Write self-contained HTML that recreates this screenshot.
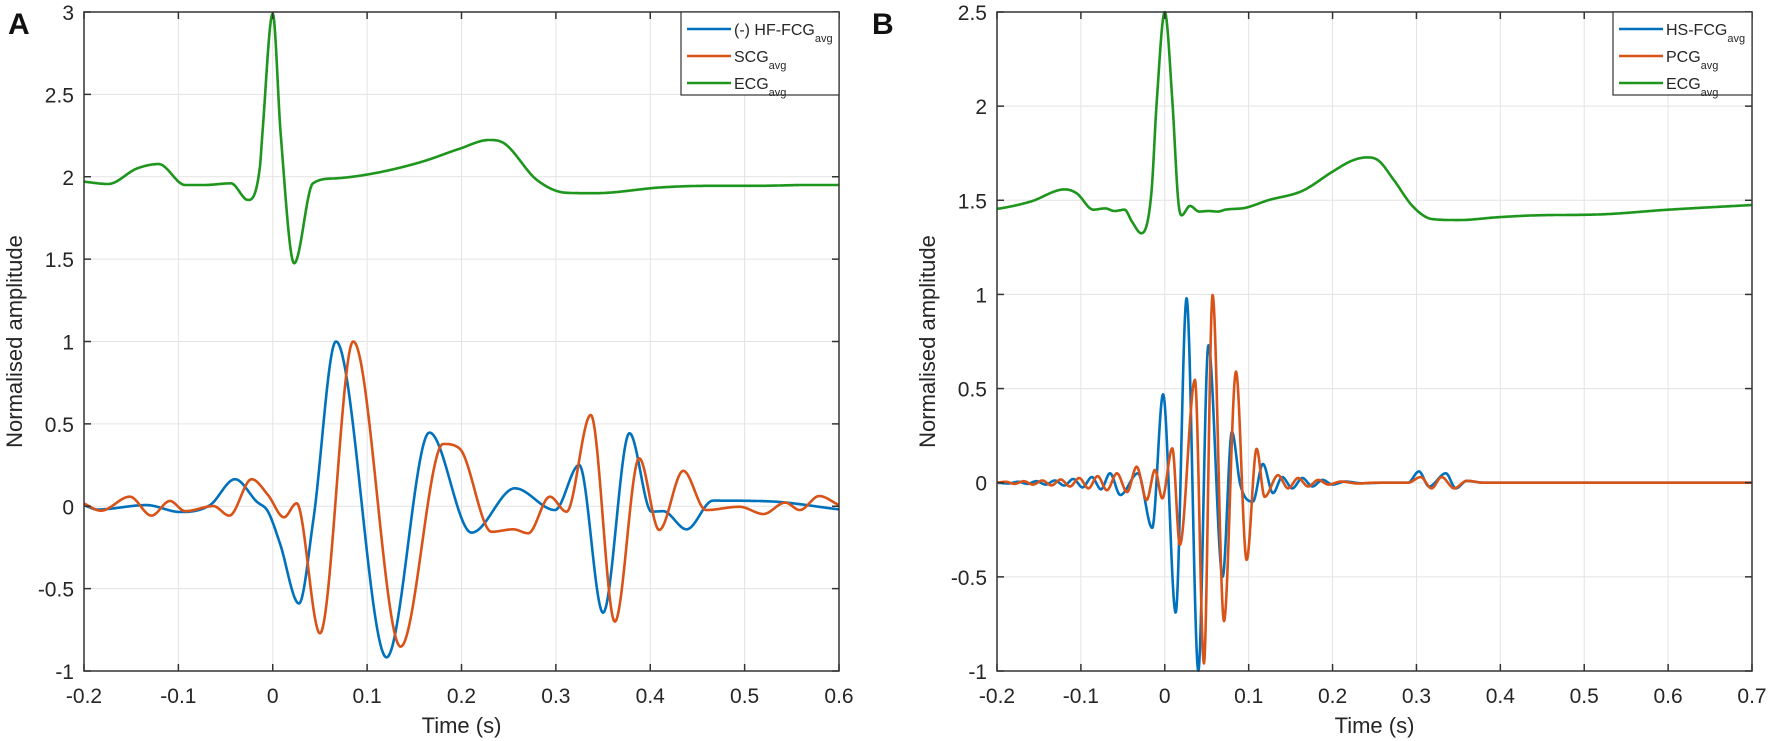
<!DOCTYPE html>
<html><head><meta charset="utf-8"><style>
body{margin:0;background:#fff;}
svg{display:block;font-family:"Liberation Sans",Arial,sans-serif;}
</style></head><body>
<svg id="fig" width="1772" height="741" viewBox="0 0 1772 741"></svg>
<script>
// ---------- Panel A data ----------
const aXTicks=[-0.2,-0.1,0,0.1,0.2,0.3,0.4,0.5,0.6];
const aYTicks=[-1,-0.5,0,0.5,1,1.5,2,2.5,3];
const aHfT=[-0.2,-0.186,-0.134,-0.098,-0.0665,-0.04,-0.017,-0.005,0.0076,0.0278,0.043,0.067,0.1206,0.166,0.2107,0.2566,0.299,0.3247,0.35,0.378,0.4014,0.4137,0.4385,0.4665,0.525,0.6];
const aHfV=[0.007,-0.02,0.007,-0.035,0.007,0.164,0.028,-0.033,-0.225,-0.59,-0.083,1.0,-0.917,0.447,-0.16,0.109,-0.023,0.25,-0.646,0.443,-0.033,-0.03,-0.14,0.034,0.03,-0.019];
const aScgT=[-0.2,-0.182,-0.1515,-0.1285,-0.109,-0.0927,-0.063,-0.046,-0.0224,-0.005,0.0119,0.0253,0.05,0.0853,0.1355,0.1806,0.198,0.2319,0.2548,0.2707,0.2936,0.3113,0.337,0.3625,0.3883,0.4095,0.435,0.459,0.4946,0.52,0.543,0.5585,0.579,0.6];
const aScgV=[0.016,-0.027,0.058,-0.057,0.032,-0.03,0.001,-0.057,0.164,0.068,-0.067,0.018,-0.771,1.0,-0.852,0.378,0.35,-0.155,-0.14,-0.164,0.058,-0.033,0.554,-0.7,0.291,-0.144,0.215,-0.023,-0.003,-0.047,0.022,-0.023,0.062,0.007];
const aEcgT=[-0.2,-0.1745,-0.1439,-0.1209,-0.0927,-0.0722,-0.0443,-0.0263,-0.0136,-0.011,0,0.0084,0.0227,0.0426,0.0656,0.1065,0.1575,0.198,0.229,0.243,0.28,0.3106,0.341,0.413,0.464,0.515,0.566,0.6];
const aEcgV=[1.97,1.956,2.05,2.077,1.95,1.95,1.96,1.859,2.06,2.26,2.99,2.26,1.475,1.96,1.99,2.02,2.09,2.17,2.223,2.21,1.98,1.903,1.9,1.936,1.945,1.945,1.95,1.95];
// ---------- Panel B data ----------
const bXTicks=[-0.2,-0.1,0,0.1,0.2,0.3,0.4,0.5,0.6,0.7];
const bYTicks=[-1,-0.5,0,0.5,1,1.5,2,2.5];
const bHsT=[-0.2,-0.186,-0.175,-0.164,-0.153,-0.142,-0.131,-0.12,-0.109,-0.098,-0.087,-0.076,-0.0653,-0.053,-0.032,-0.015,-0.002,0.013,0.026,0.040,0.052,0.069,0.080,0.09,0.105,0.117,0.129,0.140,0.152,0.164,0.176,0.188,0.2,0.215,0.235,0.26,0.29,0.303,0.315,0.335,0.347,0.36,0.38,0.7];
const bHsV=[0,-0.004,0.005,-0.006,0.008,-0.01,0.012,-0.015,0.02,-0.025,0.03,-0.035,0.05,-0.065,0.05,-0.24,0.47,-0.69,0.98,-1.0,0.73,-0.5,0.27,-0.01,-0.1,0.1,-0.055,0.03,-0.03,0.025,-0.02,0.015,-0.01,0.006,-0.003,0,0,0.06,-0.02,0.05,-0.03,0.01,0,0];
const bPcgT=[-0.2,-0.19,-0.179,-0.168,-0.157,-0.146,-0.135,-0.124,-0.113,-0.102,-0.091,-0.08,-0.069,-0.057,-0.045,-0.0335,-0.0216,-0.0117,-0.003,0.009,0.018,0.036,0.0467,0.057,0.0706,0.0849,0.0976,0.1095,0.119,0.135,0.147,0.159,0.171,0.183,0.195,0.21,0.23,0.25,0.29,0.305,0.318,0.33,0.345,0.36,0.38,0.7];
const bPcgV=[0,0.005,-0.006,0.008,-0.01,0.012,-0.014,0.017,-0.02,0.025,-0.03,0.035,-0.04,0.05,-0.05,0.085,-0.092,0.068,-0.083,0.183,-0.33,0.546,-0.96,0.997,-0.735,0.59,-0.41,0.18,-0.075,0.04,-0.03,0.025,-0.02,0.015,-0.01,0.006,-0.004,0,0,0.03,-0.03,0.03,-0.03,0.01,0,0];
const bEcgT=[-0.2,-0.196,-0.16,-0.119,-0.105,-0.085,-0.071,-0.06,-0.048,-0.039,-0.028,-0.016,-0.0095,0,0.009,0.016,0.02,0.03,0.041,0.052,0.0634,0.072,0.096,0.123,0.164,0.2,0.223,0.241,0.255,0.273,0.296,0.319,0.351,0.397,0.442,0.519,0.6,0.7];
const bEcgV=[1.455,1.457,1.493,1.558,1.537,1.45,1.457,1.443,1.45,1.386,1.325,1.537,2.03,2.5,2.03,1.5,1.42,1.47,1.44,1.443,1.44,1.45,1.46,1.5,1.55,1.652,1.71,1.728,1.71,1.608,1.466,1.4,1.395,1.41,1.42,1.425,1.45,1.475];

const NS='http://www.w3.org/2000/svg';
const svg=document.getElementById('fig');
function mk(tag,attrs,parent){const e=document.createElementNS(NS,tag);for(const k in attrs)e.setAttribute(k,attrs[k]);(parent||svg).appendChild(e);return e;}

function monotone(xs,ys){
  const n=xs.length,d=[],m=new Array(n);
  for(let i=0;i<n-1;i++)d.push((ys[i+1]-ys[i])/(xs[i+1]-xs[i]));
  m[0]=d[0];m[n-1]=d[n-2];
  for(let i=1;i<n-1;i++){m[i]=(d[i-1]*d[i]<=0)?0:(d[i-1]+d[i])/2;}
  for(let i=0;i<n-1;i++){if(d[i]===0){m[i]=0;m[i+1]=0;continue;}
    const a=m[i]/d[i],b=m[i+1]/d[i],s=a*a+b*b;if(s>9){const t=3/Math.sqrt(s);m[i]=t*a*d[i];m[i+1]=t*b*d[i];}}
  return function(x){let i=0;while(i<n-2&&x>xs[i+1])i++;
    const h=xs[i+1]-xs[i],t=(x-xs[i])/h,t2=t*t,t3=t2*t;
    return (2*t3-3*t2+1)*ys[i]+(t3-2*t2+t)*h*m[i]+(-2*t3+3*t2)*ys[i+1]+(t3-t2)*h*m[i+1];};
}

function panel(cfg){
  const {L,R,T,B,x0,x1,y0,y1,xt,yt,name}=cfg;
  const g=mk('g',{});
  
  
  const X=t=>L+(t-x0)/(x1-x0)*(R-L);
  const Y=v=>B-(v-y0)/(y1-y0)*(B-T);
  const grid=mk('g',{stroke:'#e3e3e3','stroke-width':1},g);
  
  
  xt.forEach(t=>{mk('line',{x1:X(t),x2:X(t),y1:T,y2:B},grid);});
  yt.forEach(v=>{mk('line',{x1:L,x2:R,y1:Y(v),y2:Y(v)},grid);});
  cfg.series.forEach(s=>{
    const f=monotone(s.t,s.v);let d='';
    for(let px=Math.ceil(X(s.t[0]));px<=Math.floor(X(s.t[s.t.length-1]));px+=0.5){
      const t=x0+(px-L)/(R-L)*(x1-x0);d+=(d?'L':'M')+px.toFixed(1)+','+Y(f(t)).toFixed(1);}
    const p=mk('path',{d:d,fill:'none',stroke:s.c,'stroke-width':2.6,'stroke-linejoin':'round'},g);
    
    
  });
  const ax=mk('rect',{x:L,y:T,width:R-L,height:B-T,fill:'none',stroke:'#333','stroke-width':1.5},g);
  
  
  xt.forEach(t=>{mk('line',{x1:X(t),x2:X(t),y1:B,y2:B-7,stroke:'#333','stroke-width':1.5},g);mk('line',{x1:X(t),x2:X(t),y1:T,y2:T+7,stroke:'#333','stroke-width':1.5},g);
    const tx=mk('text',{x:X(t),y:B+32,'font-size':21,'text-anchor':'middle',fill:'#262626'},g);tx.textContent=String(t);
    
    });
  yt.forEach(v=>{mk('line',{x1:L,x2:L+7,y1:Y(v),y2:Y(v),stroke:'#333','stroke-width':1.5},g);mk('line',{x1:R,x2:R-7,y1:Y(v),y2:Y(v),stroke:'#333','stroke-width':1.5},g);
    const tx=mk('text',{x:L-10,y:Y(v)+8,'font-size':21,'text-anchor':'end',fill:'#262626'},g);tx.textContent=String(v);
    
    });
  const xl=mk('text',{x:(L+R)/2,y:B+62,'font-size':22,'text-anchor':'middle',fill:'#262626'},g);xl.textContent='Time (s)';
  
  
  const yl=mk('text',{x:0,y:0,'font-size':22,'text-anchor':'middle',fill:'#262626',transform:`translate(${cfg.ylx},${(T+B)/2}) rotate(-90)`},g);yl.textContent='Normalised amplitude';
  
  
  const lt=mk('text',{x:cfg.lx,y:34,'font-size':30,'font-weight':'bold',fill:'#111'},g);lt.textContent=cfg.letter;
  
  
  const lg=mk('g',{},g);
  
  
  mk('rect',{x:cfg.legX,y:T,width:R-cfg.legX,height:83,fill:'#fff',stroke:'#333','stroke-width':1.2},lg);
  cfg.series.forEach((s,i)=>{const yy=T+17+i*27;
    mk('line',{x1:cfg.legX+6,x2:cfg.legX+50,y1:yy,y2:yy,stroke:s.c,'stroke-width':2.6},lg);
    const tx=mk('text',{x:cfg.legX+53,y:yy+6,'font-size':16,fill:'#262626'},lg);
    
    
    const a=mk('tspan',{},tx);a.textContent=s.label;
    const b=mk('tspan',{'font-size':11,dy:7},tx);b.textContent='avg';});
}
const BLUE='#0072BD',ORANGE='#D95319',GREEN='#1E961E';
panel({name:'panel-a',L:84,R:839,T:12,B:671,x0:-0.2,x1:0.6,y0:-1,y1:3,xt:aXTicks,yt:aYTicks,ylx:22,lx:8,letter:'A',legX:681,
  series:[{t:aHfT,v:aHfV,c:BLUE,name:'hf-fcg-line',label:'(-) HF-FCG'},{t:aScgT,v:aScgV,c:ORANGE,name:'scg-line',label:'SCG'},{t:aEcgT,v:aEcgV,c:GREEN,name:'ecg-line-a',label:'ECG'}]});
panel({name:'panel-b',L:997,R:1752,T:12,B:671,x0:-0.2,x1:0.7,y0:-1,y1:2.5,xt:bXTicks,yt:bYTicks,ylx:935,lx:872,letter:'B',legX:1613,
  series:[{t:bHsT,v:bHsV,c:BLUE,name:'hs-fcg-line',label:'HS-FCG'},{t:bPcgT,v:bPcgV,c:ORANGE,name:'pcg-line',label:'PCG'},{t:bEcgT,v:bEcgV,c:GREEN,name:'ecg-line-b',label:'ECG'}]});
</script>
</body></html>
